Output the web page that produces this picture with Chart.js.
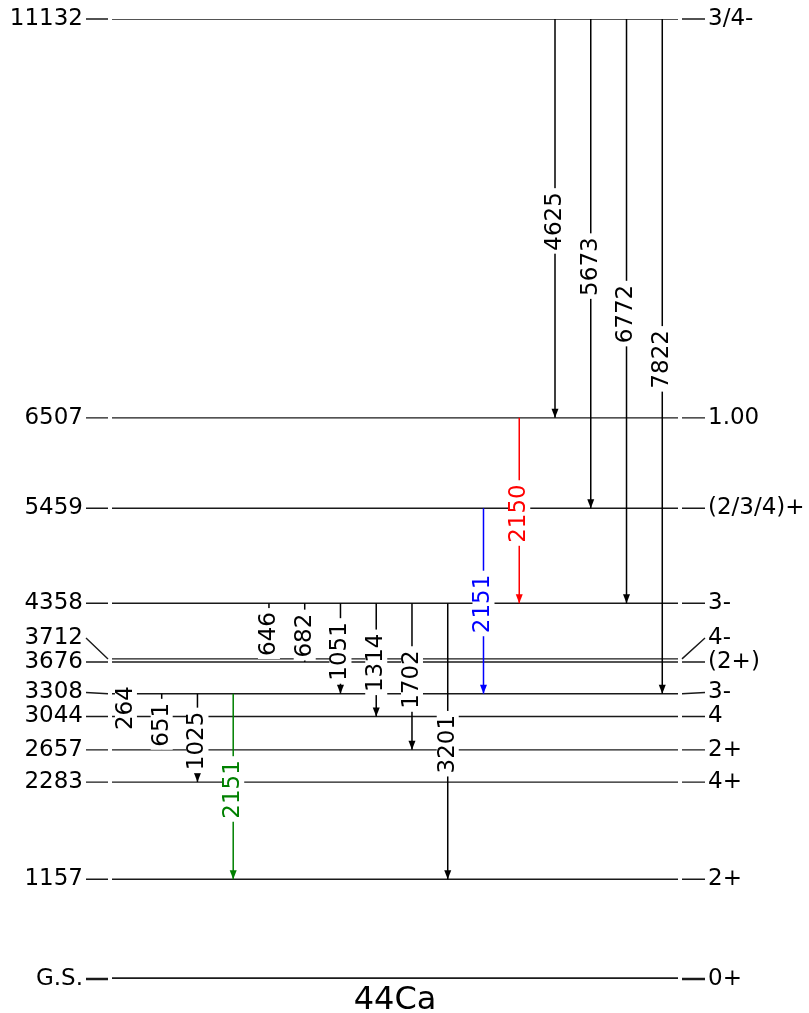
<!DOCTYPE html>
<html>
<head>
<meta charset="utf-8">
<script src="https://cdn.jsdelivr.net/npm/chart.js@4/dist/chart.umd.min.js"></script>
<style>
  body { margin: 0; background: #fff; }
  #wrap { width: 809px; height: 1013px; position: relative; }
</style>
</head>
<body>
<div id="wrap"><canvas id="levelChart"></canvas></div>
<script>
// 44Ca level scheme
const levelEnergies = [0, 1157, 2283, 2657, 3044, 3308, 3676, 3712, 4358, 5459, 6507, 11132];
const levelNames = ["G.S.", "1157", "2283", "2657", "3044", "3308", "3676", "3712", "4358", "5459", "6507", "11132"];
const levelSpins = ["0+", "2+", "4+", "2+", "4", "3-", "(2+)", "4-", "3-", "(2/3/4)+", "1.00", "3/4-"];

// gamma transitions, one column each (left to right)
const gammaLabels = ["264", "651", "1025", "2151", "646", "682", "1051", "1314", "1702", "3201", "2151", "2150", "4625", "5673", "6772", "7822"];
const gammaFrom = [3308, 3308, 3308, 3308, 4358, 4358, 4358, 4358, 4358, 4358, 5459, 6507, 11132, 11132, 11132, 11132];
const gammaTo = [3044, 2657, 2283, 1157, 3712, 3676, 3308, 3044, 2657, 1157, 3308, 4358, 6507, 5459, 4358, 3308];
const gammaColors = ["black", "black", "black", "green", "black", "black", "black", "black", "black", "black", "blue", "red", "black", "black", "black", "black"];

const nucleus = "44Ca";
const FONT = "DejaVu Sans";

const xMin = -0.39, xMax = 15.44;

const datasets = [];
gammaLabels.forEach((g, i) => {
  datasets.push({
    data: [{ x: i, y: gammaFrom[i] }, { x: i, y: gammaTo[i] }],
    borderColor: gammaColors[i],
    borderWidth: 1.5,
  });
});
levelEnergies.forEach((e, i) => {
  datasets.push({
    data: [{ x: xMin, y: e }, { x: xMax, y: e }],
    borderColor: "#1a1a1a",
    borderWidth: e === 0 ? 3.5 : 1.4,
  });
});

const schemePlugin = {
  id: "scheme",
  afterDatasetsDraw(chart) {
    const ctx = chart.ctx;
    const xs = chart.scales.x, ys = chart.scales.y;
    const area = chart.chartArea;
    ctx.save();

    // arrow heads
    gammaLabels.forEach((g, i) => {
      const x = xs.getPixelForValue(i);
      const yt = ys.getPixelForValue(gammaTo[i]);
      ctx.fillStyle = gammaColors[i];
      ctx.beginPath();
      ctx.moveTo(x, yt);
      ctx.lineTo(x - 3.5, yt - 9);
      ctx.lineTo(x + 3.5, yt - 9);
      ctx.closePath();
      ctx.fill();
    });

    // gamma labels with white boxes
    ctx.font = "23px '" + FONT + "'";
    ctx.textAlign = "center";
    ctx.textBaseline = "middle";
    gammaLabels.forEach((g, i) => {
      const x = xs.getPixelForValue(i);
      const y1 = ys.getPixelForValue(gammaFrom[i]);
      const y2 = ys.getPixelForValue(gammaTo[i]);
      const yc = (y1 + y2) / 2 + 3;
      const w = ctx.measureText(g).width;
      ctx.fillStyle = "#fff";
      ctx.fillRect(x - 11, yc - w / 2 - 4, 22, w + 7);
      ctx.save();
      ctx.translate(x, yc);
      ctx.rotate(-Math.PI / 2);
      ctx.fillStyle = gammaColors[i];
      ctx.fillText(g, 0, 0);
      ctx.restore();
    });

    // side labels, pushed apart from the bottom up
    const lvY = levelEnergies.map(e => ys.getPixelForValue(e));
    const labY = [];
    lvY.forEach((y, i) => {
      labY.push(i === 0 ? y : Math.min(y, labY[i - 1] - 24));
    });
    ctx.strokeStyle = "#1a1a1a";
    ctx.fillStyle = "#000";
    ctx.font = "23px '" + FONT + "'";
    ctx.textBaseline = "middle";
    levelEnergies.forEach((e, i) => {
      ctx.lineWidth = e === 0 ? 2.5 : 1.4;
      ctx.beginPath();
      ctx.moveTo(area.left - 26, labY[i]);
      ctx.lineTo(area.left - 4, lvY[i]);
      ctx.moveTo(area.right + 4, lvY[i]);
      ctx.lineTo(area.right + 27, labY[i]);
      ctx.stroke();
      ctx.textAlign = "right";
      ctx.fillText(levelNames[i], area.left - 29, labY[i]);
      ctx.textAlign = "left";
      ctx.fillText(levelSpins[i], area.right + 30, labY[i]);
    });

    // nucleus name
    ctx.font = "32px '" + FONT + "'";
    ctx.textAlign = "center";
    ctx.textBaseline = "alphabetic";
    ctx.fillText(nucleus, (area.left + area.right) / 2, area.bottom + 30);
    ctx.restore();
  },
};

new Chart(document.getElementById("levelChart"), {
  type: "scatter",
  data: { datasets: datasets.map(d => Object.assign({ showLine: true, pointRadius: 0, fill: false }, d)) },
  options: {
    responsive: true,
    maintainAspectRatio: false,
    animation: false,
    layout: { padding: { left: 112, right: 131, top: 19, bottom: 34 } },
    scales: {
      x: { type: "linear", min: xMin, max: xMax, display: false },
      y: { type: "linear", min: 0, max: 11132, display: false },
    },
    plugins: { legend: { display: false }, tooltip: { enabled: false } },
  },
  plugins: [schemePlugin],
});
</script>
</body>
</html>
